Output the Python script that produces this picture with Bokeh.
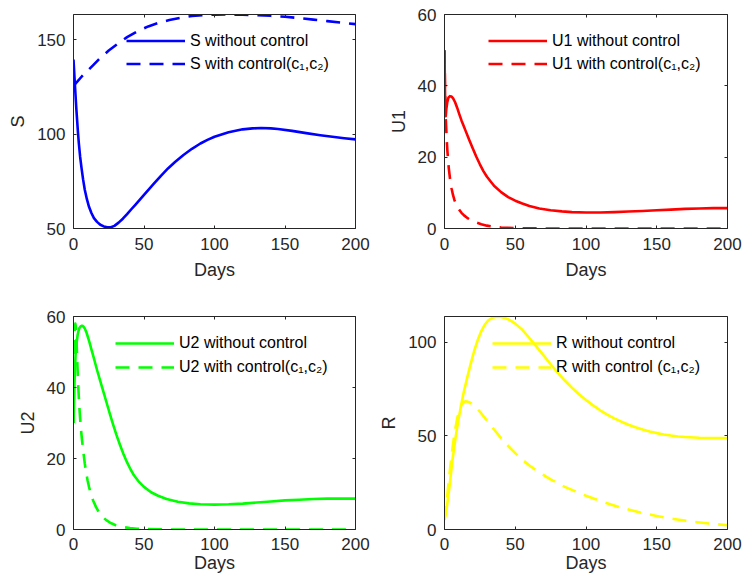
from bokeh.plotting import figure
from bokeh.layouts import column, row
from bokeh.models import Range1d, LinearAxis, FixedTicker, Legend, LegendItem
from bokeh.embed import file_html
from bokeh.resources import INLINE

# ---------------- data ----------------
x_ticks = [0, 50, 100, 150, 200]
s_ticks = [50, 100, 150]
u_ticks = [0, 20, 40, 60]
r_ticks = [0, 50, 100]

days_s_nc = [0, 0.7, 1.4, 2, 2.6, 3.2, 3.8, 4.7, 5.7, 6.8, 8, 9.5, 11, 12.7, 14.5, 16.7, 19, 21.5, 24,
             26.5, 29, 32, 35, 38, 41, 44, 50, 57, 62, 67, 72, 78, 84, 90, 95, 100, 110, 120, 127, 133,
             140, 145, 155, 165, 175, 185, 192, 200]
s_nc = [139.5, 130, 121, 113.5, 107, 100.5, 95, 88, 82, 76, 70.5, 65.5, 61.5, 58.2, 55.5, 53.5, 52, 51.1, 50.6,
        50.7, 51.4, 53.1, 55.2, 57.6, 60.2, 62.7, 67.8, 73.7, 77.9, 81.8, 85.2, 88.9, 92.2, 95.0, 96.9, 98.6,
        101.0, 102.5, 103.0, 103.2, 103.0, 102.7, 101.7, 100.5, 99.4, 98.4, 97.8, 97.2]

days_s_c = [0, 3, 6, 10, 14, 19, 25, 31, 38, 45, 53, 60, 68, 76, 84, 92, 100, 110, 120, 130, 140, 150,
            160, 170, 180, 190, 200]
s_c = [125.5, 128, 130.6, 133.5, 136.5, 140.3, 144.2, 147.6, 151.3, 154.3, 157, 158.8, 160.4, 161.6, 162.5,
       163, 163.2, 163.3, 163.2, 163, 162.6, 162.1, 161.4, 160.6, 159.8, 159, 158.2]

days_u1_nc = [0, 0.3, 0.6, 0.9, 1.3, 2, 2.8, 3.8, 5, 6.2, 7.5, 9, 10.5, 12, 13.5, 15, 17.5, 20, 22.5, 25,
              27.5, 30, 35, 40, 45, 50, 55, 60, 67, 75, 83, 90, 100, 110, 120, 130, 140, 150, 160, 170,
              180, 190, 200]
u1_nc = [50, 40, 33, 31.5, 33.5, 35.5, 36.7, 37.1, 37, 36.4, 35.4, 33.8, 32, 30.3, 28.8, 27.3, 24.8, 22.4,
         20.1, 18, 16.1, 14.5, 12, 10.2, 8.8, 7.8, 7, 6.3, 5.6, 5.1, 4.8, 4.6, 4.5, 4.5, 4.6, 4.75, 4.9,
         5.1, 5.3, 5.5, 5.6, 5.7, 5.7]

days_u1_c = [0, 0.3, 0.6, 1, 1.5, 2, 3, 4, 5, 6, 7, 8.5, 10, 12, 14, 16, 18, 20, 23, 26, 30, 35, 40, 45,
             50, 60, 70, 80, 100, 150, 200]
u1_c = [50, 41, 35, 30, 25.5, 22, 17, 13.6, 11.2, 9.4, 8, 6.6, 5.5, 4.4, 3.6, 3, 2.5, 2.1, 1.6, 1.2, 0.8,
        0.5, 0.3, 0.18, 0.1, 0.04, 0.01, 0, 0, 0, 0]

days_u2_nc = [0, 0.3, 0.6, 1, 1.5, 2, 3, 4, 5, 6, 7, 8, 9, 10, 11.2, 12.5, 14, 15.5, 17, 19, 21.5, 24, 26,
              28, 30.5, 33, 35.5, 38, 40.5, 43, 46.5, 50, 55, 60, 66, 74, 82, 90, 100, 110, 120, 130, 140,
              150, 160, 170, 180, 190, 200]
u2_nc = [30, 35, 40, 45, 49.5, 52, 55, 56.6, 57.2, 57.4, 57.2, 56.6, 55.7, 54.5, 52.9, 51, 48.9, 46.7, 44.5,
         41.8, 38.4, 35, 32.3, 29.7, 26.6, 23.8, 21.2, 18.9, 16.9, 15.2, 13.4, 12, 10.5, 9.5, 8.6, 7.8,
         7.35, 7.1, 7, 7.1, 7.3, 7.6, 7.9, 8.2, 8.4, 8.6, 8.7, 8.75, 8.7]

days_u2_c = [0, 0.3, 0.6, 0.9, 1.3, 1.7, 2.2, 2.8, 3.3, 3.8, 4.4, 5, 6, 7, 8, 9, 10, 11, 12.5, 14, 16, 18,
             20, 23, 26, 30, 35, 40, 45, 50, 60, 70, 80, 200]
u2_c = [30, 40, 50, 56, 58, 57, 52.5, 46, 41, 37, 33, 29.5, 25.3, 21.8, 18.6, 16, 13.8, 12, 9.8, 8.1, 6.3,
        4.9, 3.8, 2.7, 1.9, 1.2, 0.7, 0.4, 0.22, 0.12, 0.04, 0.01, 0, 0]

days_r_nc = [0, 1, 2, 3.3, 4.5, 5.6, 7, 8, 9.5, 11.5, 13.5, 16, 18.5, 21, 23.5, 26, 28.5, 31, 34, 37, 40,
             43, 46.5, 50, 55, 60, 65, 70, 75, 80, 85, 90, 95, 100, 105, 110, 115, 120, 125, 130, 135,
             140, 145, 150, 155, 160, 165, 170, 180, 190, 200]
r_nc = [5.2, 8.5, 14, 21.5, 29.5, 37, 44.5, 50, 57, 65.5, 73, 81, 88.5, 95.5, 101.3, 106, 109.5, 111.8,
        113.2, 113.7, 113.5, 112.9, 111.7, 110, 106.7, 102.3, 97.7, 93, 88.3, 83.8, 79.6, 75.8, 72.3,
        69.2, 66.3, 63.7, 61.4, 59.4, 57.6, 56, 54.6, 53.4, 52.4, 51.5, 50.8, 50.2, 49.7, 49.4, 49,
        48.9, 48.9]

days_r_c = [0, 1, 2, 3, 4, 5, 6, 7, 8, 9, 10, 11, 12, 13, 14, 15, 16, 18, 20, 23, 26, 30, 35, 40, 45, 50,
            55, 60, 67, 75, 85, 100, 112, 125, 137, 150, 162, 175, 187, 200]
r_c = [5, 11, 18.5, 26, 33, 39.5, 45.5, 51, 55.5, 59.5, 62.5, 64.8, 66.5, 67.7, 68.3, 68.5, 68.4, 67.8,
       66.8, 64.7, 62, 58.2, 53.4, 48.8, 44.6, 40.8, 37.3, 34.2, 30.5, 26.8, 22.8, 18, 14.7, 11.6, 9.3,
       7.2, 5.6, 4.2, 3.2, 2.3]

labels_s = ["S without control", "S with control(c\u2081,c\u2082)"]
labels_u1 = ["U1 without control", "U1 with control(c\u2081,c\u2082)"]
labels_u2 = ["U2 without control", "U2 with control(c\u2081,c\u2082)"]
labels_r = ["R without control", "R with control (c\u2081,c\u2082)"]

# ---------------- styling helpers ----------------
FONT = "Liberation Sans"
AX = "#262626"
LW = 2.6
DASH = "14 9"


def style_axis(ax, ticks, show_labels, standoff=8):
    ax.ticker = FixedTicker(ticks=ticks)
    ax.major_tick_in = 3
    ax.major_tick_out = 0
    ax.minor_tick_line_color = None
    ax.axis_line_color = AX
    ax.axis_line_width = 1
    ax.major_tick_line_color = AX
    ax.major_tick_line_width = 1
    if show_labels:
        ax.major_label_text_font = FONT
        ax.major_label_text_font_size = "17px"
        ax.major_label_text_color = AX
        ax.major_label_standoff = standoff
    else:
        # mirror axis: ticks only, labels not painted
        ax.major_label_text_font_size = "1px"
        ax.major_label_text_color = None
        ax.major_label_standoff = 0


def build(width, height, bl, bt, fw, fh, ylo, yhi, yticks, ylabel, xstand, xlabstand):
    p = figure(width=width, height=height, x_range=Range1d(0, 200), y_range=Range1d(ylo, yhi),
               output_backend="svg", toolbar_location=None,
               min_border_left=bl, min_border_top=bt,
               min_border_right=width - bl - fw, min_border_bottom=height - bt - fh)
    p.xgrid.visible = False
    p.ygrid.visible = False
    p.outline_line_color = None
    p.background_fill_color = "white"
    p.border_fill_color = "white"
    xa = p.xaxis[0]
    ya = p.yaxis[0]
    style_axis(xa, x_ticks, True, xstand)
    style_axis(ya, yticks, True, 8)
    xa.axis_label = "Days"
    ya.axis_label = ylabel
    for ax in (xa, ya):
        ax.axis_label_text_font = FONT
        ax.axis_label_text_font_size = "18px"
        ax.axis_label_text_font_style = "normal"
        ax.axis_label_text_color = AX
    xa.axis_label_standoff = xlabstand
    ya.axis_label_standoff = 6
    top = LinearAxis()
    style_axis(top, x_ticks, False)
    p.add_layout(top, "above")
    right = LinearAxis()
    style_axis(right, yticks, False)
    p.add_layout(right, "right")
    return p


def add_curves(p, color, d_nc, v_nc, d_c, v_c, labels, loc, row_h):
    r1 = p.line(d_nc, v_nc, line_color=color, line_width=LW, line_join="round")
    r2 = p.line(d_c, v_c, line_color=color, line_width=LW, line_join="round", line_dash=DASH)
    leg = Legend(items=[LegendItem(label=labels[0], renderers=[r1]),
                        LegendItem(label=labels[1], renderers=[r2])],
                 location=loc, orientation="vertical", glyph_width=59, glyph_height=row_h,
                 label_height=row_h, label_standoff=5, spacing=0, padding=0, margin=0,
                 border_line_color=None, background_fill_alpha=0,
                 label_text_font=FONT, label_text_font_size="16px", label_text_color="black")
    p.add_layout(leg)


p1 = build(371, 290, 73, 14, 282, 214, 50, 163.3, s_ticks, "S", 9, 7)
add_curves(p1, "#0000ff", days_s_nc, s_nc, days_s_c, s_c, labels_s, (53, 153), 23)

p2 = build(371, 290, 73, 14, 283, 214, 0, 60, u_ticks, "U1", 9, 7)
add_curves(p2, "#ff0000", days_u1_nc, u1_nc, days_u1_c, u1_c, labels_u1, (44, 153), 23)

p3 = build(371, 294, 73, 26, 282, 213, 0, 60, u_ticks, "U2", 8, 0)
add_curves(p3, "#00ff00", days_u2_nc, u2_nc, days_u2_c, u2_c, labels_u2, (42, 150), 24)

p4 = build(371, 294, 73, 26, 283, 213, 0, 113.8, r_ticks, "R", 8, 0)
add_curves(p4, "#ffff00", days_r_nc, r_nc, days_r_c, r_c, labels_r, (48, 150), 24)

layout = column(row(p1, p2), row(p3, p4))

open("out.html", "w").write(file_html(layout, INLINE))
